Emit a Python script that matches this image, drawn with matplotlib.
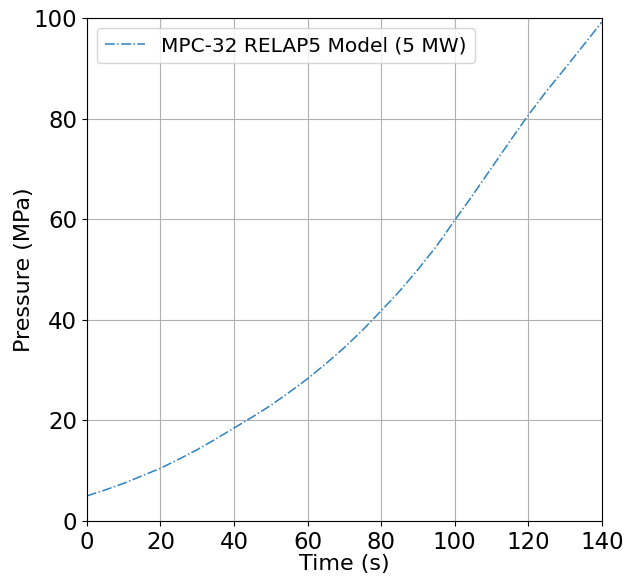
import matplotlib
matplotlib.use("Agg")
import matplotlib.pyplot as plt
import numpy as np

# pressure
time_s = [0, 5, 10, 15, 20, 25, 30, 35, 40, 45, 50, 55, 60, 65, 70,
          75, 80, 85, 90, 95, 100, 105, 110, 115, 120, 125, 130, 135, 140]
pressure_mpa = [5.0, 6.2, 7.5, 9.0, 10.5, 12.3, 14.2, 16.3, 18.5, 20.7, 23.0, 25.6, 28.3, 31.3, 34.5,
                38.0, 41.8, 45.7, 50.0, 54.6, 59.8, 64.9, 70.2, 75.5, 80.7, 85.5, 90.0, 94.6, 99.2]

fig, ax = plt.subplots(figsize=(6.25, 5.79), dpi=100)
ax.plot(time_s, pressure_mpa, linestyle="-.", color="#2f82c0", linewidth=1.1,
        label="MPC-32 RELAP5 Model (5 MW)")

ax.set_xlim(0, 140)
ax.set_ylim(0, 100)
ax.set_xlabel("Time (s)", fontsize=16, labelpad=0)
ax.set_ylabel("Pressure (MPa)", fontsize=16, labelpad=0)
ax.tick_params(labelsize=16.5)
ax.grid(True, color="#b0b0b0", linewidth=0.8)
ax.legend(loc="upper left", fontsize=14.5)

fig.subplots_adjust(left=0.139, right=0.963, top=0.969, bottom=0.1)
fig.savefig("out.png", dpi=100)
